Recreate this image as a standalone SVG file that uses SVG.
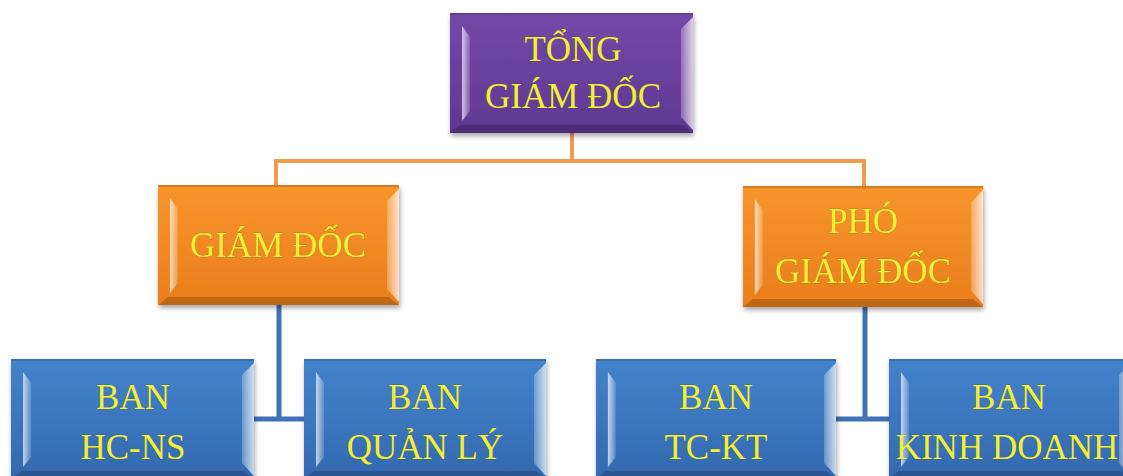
<svg xmlns="http://www.w3.org/2000/svg" xmlns:xlink="http://www.w3.org/1999/xlink" width="1123" height="476" viewBox="0 0 1123 476">
<style>
.t{font-family:"Liberation Serif","Times New Roman",serif;font-size:35px;fill:#f1ef3a;text-anchor:middle;stroke:#5a4a18;stroke-opacity:0.35;stroke-width:0.9;paint-order:stroke}
.pu{fill:url(#gPu)}
.or{fill:url(#gOr)}
.bl{fill:url(#gBl)}
.co{fill:none;stroke:#f29a4a;stroke-width:4}
.cb{fill:none;stroke:#4072b6;stroke-width:5}
</style>
<defs>
<linearGradient id="gPu" x1="0" y1="0" x2="0" y2="1"><stop offset="0" stop-color="#7448a8"/><stop offset="1" stop-color="#5f3892"/></linearGradient>
<linearGradient id="gOr" x1="0" y1="0" x2="0" y2="1"><stop offset="0" stop-color="#f7952c"/><stop offset="1" stop-color="#ea7e1c"/></linearGradient>
<linearGradient id="gBl" x1="0" y1="0" x2="0" y2="1"><stop offset="0" stop-color="#4383cc"/><stop offset="1" stop-color="#3369b0"/></linearGradient>
<linearGradient id="hl" x1="0" y1="0" x2="1" y2="0"><stop offset="0" stop-color="#fff" stop-opacity="0.7"/><stop offset="1" stop-color="#fff" stop-opacity="0.15"/></linearGradient>
<linearGradient id="hr" x1="0" y1="0" x2="1" y2="0"><stop offset="0" stop-color="#fff" stop-opacity="0.25"/><stop offset="1" stop-color="#fff" stop-opacity="0.75"/></linearGradient>
<filter id="sh" x="-10%" y="-10%" width="120%" height="130%"><feDropShadow dx="1" dy="3" stdDeviation="2.5" flood-color="#000" flood-opacity="0.35"/></filter>
<symbol id="bevel" viewBox="0 0 242 120" width="242" height="120" preserveAspectRatio="none">
<polygon points="12,13 20,24 20,98 12,108" fill="url(#hl)"/>
<polygon points="230,16 242,4 242,117 230,104" fill="url(#hr)"/>
<polygon points="0,120 242,120 232,112 10,112" fill="#000" fill-opacity="0.18"/>
<rect x="0" y="0" width="242" height="2" fill="#000" fill-opacity="0.15"/>
</symbol>
</defs>
<rect width="1123" height="476" fill="#ffffff"/>
<g id="connectors">
<path class="co" d="M572 133 V161 M276 161 H864 M276 159 V186 M864 159 V186"/>
<path class="cb" d="M279 305 V419 M254 419 H304"/>
<path class="cb" d="M865 307 V419 M836 419 H889"/>
</g>
<g id="tong-giam-doc">
<rect class="pu" x="450" y="13" width="243" height="120" filter="url(#sh)"/>
<use xlink:href="#bevel" x="450" y="13" width="243" height="120"/>
<text class="t" x="573" y="61">TỔNG</text>
<text class="t" x="573" y="108">GIÁM ĐỐC</text>
</g>
<g id="giam-doc">
<rect class="or" x="158" y="185" width="241" height="120" filter="url(#sh)"/>
<use xlink:href="#bevel" x="158" y="185" width="241" height="120"/>
<text class="t" x="278" y="257">GIÁM ĐỐC</text>
</g>
<g id="pho-giam-doc">
<rect class="or" x="743" y="186" width="240" height="121" filter="url(#sh)"/>
<use xlink:href="#bevel" x="743" y="186" width="240" height="121"/>
<text class="t" x="863" y="233">PHÓ</text>
<text class="t" x="863" y="283">GIÁM ĐỐC</text>
</g>
<g id="ban-hc-ns">
<rect class="bl" x="11" y="359" width="243" height="120" filter="url(#sh)"/>
<use xlink:href="#bevel" x="11" y="359" width="243" height="120"/>
<text class="t" x="133" y="409">BAN</text>
<text class="t" x="133" y="459">HC-NS</text>
</g>
<g id="ban-quan-ly">
<rect class="bl" x="304" y="359" width="242" height="120" filter="url(#sh)"/>
<use xlink:href="#bevel" x="304" y="359" width="242" height="120"/>
<text class="t" x="425" y="409">BAN</text>
<text class="t" x="425" y="459">QUẢN LÝ</text>
</g>
<g id="ban-tc-kt">
<rect class="bl" x="596" y="359" width="240" height="120" filter="url(#sh)"/>
<use xlink:href="#bevel" x="596" y="359" width="240" height="120"/>
<text class="t" x="716" y="409">BAN</text>
<text class="t" x="716" y="459">TC-KT</text>
</g>
<g id="ban-kinh-doanh">
<rect class="bl" x="889" y="359" width="242" height="120" filter="url(#sh)"/>
<use xlink:href="#bevel" x="889" y="359" width="242" height="120"/>
<text class="t" x="1009" y="409">BAN</text>
<text class="t" x="1007" y="459">KINH DOANH</text>
</g>
</svg>
